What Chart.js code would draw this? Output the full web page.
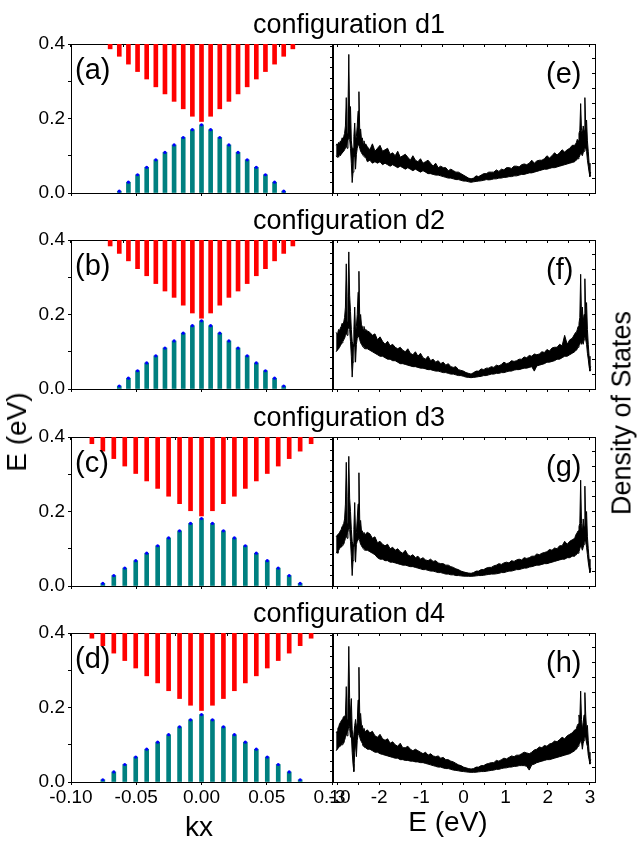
<!DOCTYPE html>
<html>
<head>
<meta charset="utf-8">
<script src="https://cdn.jsdelivr.net/npm/chart.js@4/dist/chart.umd.min.js"></script>
<style>
  body { margin: 0; background: #fff; font-family: "Liberation Sans", Arial, sans-serif; }
  #fig { position: relative; width: 638px; height: 841px; overflow: hidden; }
  #fig canvas { position: absolute; }
  .txt { position: absolute; white-space: nowrap; color: #000; line-height: 1; }
</style>
</head>
<body>
<div id="fig"></div>
<script>
// ---- data ----
const configNames = ["configuration d1", "configuration d2", "configuration d3", "configuration d4"];
const bandLetters = ["(a)", "(b)", "(c)", "(d)"];
const dosLetters = ["(e)", "(f)", "(g)", "(h)"];

// kx sampling (d1/d2 share one grid, d3/d4 another)
const kxAB = [-0.070, -0.063, -0.056, -0.049, -0.042, -0.035, -0.028, -0.021, -0.014, -0.007, 0,
  0.007, 0.014, 0.021, 0.028, 0.035, 0.042, 0.049, 0.056, 0.063, 0.070];
const kxCD = [-0.084, -0.0756, -0.0672, -0.0588, -0.0504, -0.042, -0.0336, -0.0252, -0.0168, -0.0084, 0,
  0.0084, 0.0168, 0.0252, 0.0336, 0.042, 0.0504, 0.0588, 0.0672, 0.0756, 0.084];

// conduction band (red, hangs from top) and valence band (teal) energies, eV
const condA = [0.387, 0.367, 0.346, 0.326, 0.306, 0.285, 0.266, 0.246, 0.226, 0.206, 0.192, 0.206, 0.226, 0.246, 0.266, 0.285, 0.306, 0.326, 0.346, 0.367, 0.387];
const valA = [null, 0.005, 0.029, 0.049, 0.069, 0.089, 0.109, 0.129, 0.149, 0.170, 0.183, 0.170, 0.149, 0.129, 0.109, 0.089, 0.069, 0.049, 0.029, 0.005, null];
const condB = [0.384, 0.364, 0.344, 0.323, 0.304, 0.283, 0.263, 0.246, 0.225, 0.204, 0.190, 0.204, 0.225, 0.246, 0.263, 0.283, 0.304, 0.323, 0.344, 0.364, 0.384];
const valB = [null, 0.008, 0.029, 0.049, 0.070, 0.089, 0.110, 0.129, 0.150, 0.170, 0.183, 0.170, 0.150, 0.129, 0.110, 0.089, 0.070, 0.049, 0.029, 0.008, null];
const condC = [0.382, 0.362, 0.342, 0.322, 0.302, 0.282, 0.262, 0.241, 0.221, 0.202, 0.188, 0.202, 0.221, 0.241, 0.262, 0.282, 0.302, 0.322, 0.342, 0.362, 0.382];
const valC = [null, 0.007, 0.028, 0.048, 0.068, 0.088, 0.108, 0.129, 0.148, 0.168, 0.181, 0.168, 0.148, 0.129, 0.108, 0.088, 0.068, 0.048, 0.028, 0.007, null];
const condD = [0.386, 0.366, 0.346, 0.326, 0.306, 0.285, 0.266, 0.245, 0.224, 0.206, 0.192, 0.206, 0.224, 0.245, 0.266, 0.285, 0.306, 0.326, 0.346, 0.366, 0.386];
const valD = [null, 0.006, 0.027, 0.047, 0.067, 0.088, 0.107, 0.127, 0.148, 0.167, 0.181, 0.167, 0.148, 0.127, 0.107, 0.088, 0.067, 0.047, 0.027, 0.006, null];

// DOS energy grid (eV); DOS given as upper / lower edge of the noisy trace
// (arb. units, 0 = panel bottom, 1 = panel top)
const dosEnergy = [
  -3.02, -3.00, -2.98, -2.96, -2.94, -2.92, -2.90, -2.88, -2.86, -2.84, -2.82, -2.80, -2.78, -2.76, -2.74, -2.72, -2.70, -2.68,
  -2.66, -2.64, -2.62, -2.60, -2.58, -2.56, -2.54, -2.52, -2.50, -2.48, -2.46, -2.44, -2.42, -2.40, -2.38, -2.36, -2.34, -2.32,
  -2.28, -2.22, -2.16, -2.10, -2.04, -1.98, -1.92, -1.86, -1.80, -1.74, -1.68, -1.62, -1.56, -1.50, -1.44, -1.38, -1.32, -1.26,
  -1.20, -1.14, -1.08, -1.02, -0.96, -0.90, -0.84, -0.78, -0.72, -0.66, -0.60, -0.54, -0.48, -0.42, -0.36, -0.30, -0.24, -0.18,
  -0.12, -0.06, 0.00, 0.06, 0.12, 0.18, 0.24, 0.30, 0.36, 0.42, 0.48, 0.54, 0.60, 0.66, 0.72, 0.78, 0.84, 0.90, 0.96, 1.02,
  1.08, 1.14, 1.20, 1.26, 1.32, 1.38, 1.44, 1.50, 1.56, 1.62, 1.68, 1.74, 1.80, 1.86, 1.92, 1.98, 2.04, 2.10, 2.16, 2.22,
  2.28, 2.34, 2.40, 2.46, 2.52, 2.58, 2.64,
  2.66, 2.68, 2.70, 2.72, 2.74, 2.76, 2.78, 2.80, 2.82, 2.84, 2.86, 2.88, 2.90, 2.92, 2.94, 2.96, 2.98, 3.00, 3.02];

const dosEHi = [
  0.32, 0.33, 0.31, 0.34, 0.33, 0.35, 0.34, 0.37, 0.36, 0.38, 0.40, 0.45, 0.64, 0.40, 0.55, 0.93, 0.50, 0.58,
  0.35, 0.30, 0.30, 0.38, 0.47, 0.35, 0.38, 0.45, 0.55, 0.68, 0.40, 0.43, 0.36, 0.37, 0.33, 0.35, 0.32, 0.33,
  0.31, 0.29, 0.33, 0.28, 0.30, 0.32, 0.28, 0.29, 0.30, 0.26,
  0.27, 0.25, 0.28, 0.24, 0.25, 0.26, 0.24, 0.22, 0.25, 0.22,
  0.21, 0.23, 0.20, 0.21, 0.22, 0.20, 0.18, 0.20, 0.17, 0.18,
  0.17, 0.17, 0.15, 0.16, 0.15, 0.14, 0.14, 0.13, 0.12, 0.11,
  0.10, 0.095, 0.10, 0.115, 0.11, 0.12, 0.13, 0.13, 0.14, 0.14,
  0.14, 0.155, 0.145, 0.16, 0.155, 0.17, 0.17, 0.165, 0.18, 0.18,
  0.175, 0.19, 0.195, 0.19, 0.20, 0.22, 0.20, 0.215, 0.22, 0.22,
  0.23, 0.25, 0.235, 0.25, 0.27, 0.255, 0.27, 0.29, 0.275, 0.29,
  0.30, 0.32, 0.32,
  0.33, 0.34, 0.36, 0.35, 0.40, 0.42, 0.60, 0.42, 0.40, 0.45, 0.42, 0.64, 0.45, 0.49, 0.35, 0.28, 0.20, 0.13, 0.14];
const dosELo = [
  0.25, 0.24, 0.25, 0.24, 0.26, 0.25, 0.26, 0.27, 0.27, 0.28, 0.29, 0.30, 0.32, 0.30, 0.35, 0.38, 0.36, 0.30,
  0.20, 0.07, 0.14, 0.24, 0.25, 0.16, 0.26, 0.30, 0.33, 0.32, 0.30, 0.28, 0.27, 0.26, 0.25, 0.25, 0.24, 0.24,
  0.21, 0.22, 0.20, 0.21, 0.20, 0.21, 0.19, 0.20, 0.19, 0.18,
  0.19, 0.18, 0.17, 0.18, 0.17, 0.16, 0.17, 0.16, 0.15, 0.16,
  0.15, 0.14, 0.15, 0.14, 0.13, 0.13, 0.125, 0.12, 0.12, 0.115,
  0.11, 0.105, 0.10, 0.10, 0.095, 0.09, 0.09, 0.085, 0.08, 0.08,
  0.075, 0.072, 0.075, 0.078, 0.08, 0.082, 0.085, 0.09, 0.088, 0.09,
  0.095, 0.095, 0.10, 0.10, 0.105, 0.105, 0.11, 0.11, 0.115, 0.115,
  0.12, 0.125, 0.125, 0.13, 0.135, 0.135, 0.14, 0.145, 0.15, 0.155,
  0.16, 0.16, 0.165, 0.17, 0.17, 0.175, 0.18, 0.185, 0.19, 0.195,
  0.20, 0.205, 0.21,
  0.22, 0.22, 0.23, 0.23, 0.24, 0.25, 0.27, 0.26, 0.25, 0.27, 0.28, 0.30, 0.30, 0.28, 0.22, 0.18, 0.14, 0.11, 0.12];

const dosFHi = [
  0.38, 0.37, 0.38, 0.40, 0.39, 0.41, 0.42, 0.44, 0.43, 0.45, 0.48, 0.55, 0.84, 0.45, 0.62, 0.92, 0.63, 0.52,
  0.40, 0.32, 0.30, 0.40, 0.55, 0.38, 0.42, 0.50, 0.65, 0.79, 0.45, 0.50, 0.43, 0.42, 0.40, 0.42, 0.39, 0.40,
  0.39, 0.38, 0.36, 0.37, 0.33, 0.35, 0.32, 0.30, 0.32, 0.29,
  0.30, 0.28, 0.27, 0.28, 0.26, 0.25, 0.27, 0.24, 0.23, 0.25,
  0.22, 0.24, 0.21, 0.20, 0.22, 0.19, 0.20, 0.18, 0.19, 0.17,
  0.18, 0.16, 0.17, 0.15, 0.145, 0.15, 0.13, 0.125, 0.12, 0.11,
  0.105, 0.10, 0.11, 0.12, 0.12, 0.135, 0.13, 0.14, 0.14, 0.15,
  0.145, 0.16, 0.155, 0.165, 0.18, 0.17, 0.175, 0.19, 0.185, 0.19,
  0.20, 0.20, 0.215, 0.21, 0.225, 0.22, 0.235, 0.23, 0.235, 0.25,
  0.245, 0.265, 0.255, 0.275, 0.28, 0.28, 0.30, 0.29, 0.36, 0.30,
  0.33, 0.34, 0.37,
  0.38, 0.38, 0.40, 0.42, 0.44, 0.48, 0.77, 0.48, 0.55, 0.45, 0.50, 0.74, 0.50, 0.58, 0.40, 0.30, 0.22, 0.14, 0.15];
const dosFLo = [
  0.25, 0.26, 0.26, 0.27, 0.28, 0.29, 0.30, 0.31, 0.32, 0.33, 0.34, 0.36, 0.38, 0.36, 0.40, 0.42, 0.40, 0.32,
  0.22, 0.08, 0.18, 0.28, 0.30, 0.18, 0.30, 0.34, 0.36, 0.35, 0.33, 0.31, 0.30, 0.29, 0.28, 0.28, 0.27, 0.27,
  0.27, 0.26, 0.25, 0.24, 0.23, 0.22, 0.22, 0.21, 0.20, 0.20,
  0.19, 0.19, 0.18, 0.17, 0.17, 0.165, 0.16, 0.155, 0.15, 0.15,
  0.145, 0.14, 0.14, 0.135, 0.13, 0.13, 0.125, 0.12, 0.12, 0.115,
  0.11, 0.11, 0.105, 0.10, 0.10, 0.095, 0.09, 0.09, 0.085, 0.08,
  0.078, 0.076, 0.078, 0.08, 0.083, 0.085, 0.09, 0.09, 0.095, 0.10,
  0.10, 0.105, 0.105, 0.11, 0.11, 0.115, 0.12, 0.12, 0.127, 0.13,
  0.13, 0.135, 0.14, 0.14, 0.145, 0.15, 0.12, 0.155, 0.16, 0.165,
  0.17, 0.18, 0.18, 0.185, 0.19, 0.20, 0.20, 0.21, 0.22, 0.22,
  0.23, 0.24, 0.25,
  0.26, 0.26, 0.27, 0.28, 0.29, 0.30, 0.32, 0.30, 0.32, 0.30, 0.33, 0.35, 0.33, 0.30, 0.24, 0.20, 0.15, 0.12, 0.13];

const dosGHi = [
  0.33, 0.34, 0.34, 0.35, 0.36, 0.37, 0.38, 0.40, 0.41, 0.42, 0.45, 0.55, 0.83, 0.42, 0.60, 0.87, 0.59, 0.50,
  0.38, 0.30, 0.28, 0.38, 0.56, 0.35, 0.36, 0.45, 0.55, 0.76, 0.42, 0.44, 0.37, 0.37, 0.35, 0.36, 0.34, 0.35,
  0.36, 0.35, 0.32, 0.33, 0.29, 0.30, 0.28, 0.27, 0.28, 0.25,
  0.26, 0.24, 0.25, 0.23, 0.22, 0.24, 0.21, 0.20, 0.21, 0.19,
  0.20, 0.18, 0.19, 0.175, 0.17, 0.18, 0.165, 0.17, 0.155, 0.15,
  0.15, 0.14, 0.14, 0.13, 0.125, 0.115, 0.11, 0.10, 0.095, 0.09,
  0.087, 0.085, 0.09, 0.10, 0.10, 0.11, 0.11, 0.12, 0.125, 0.125,
  0.135, 0.14, 0.15, 0.145, 0.155, 0.16, 0.155, 0.17, 0.165, 0.175,
  0.18, 0.175, 0.19, 0.185, 0.19, 0.20, 0.20, 0.215, 0.21, 0.22,
  0.225, 0.23, 0.245, 0.24, 0.255, 0.25, 0.27, 0.27, 0.30, 0.28,
  0.30, 0.31, 0.32,
  0.34, 0.35, 0.36, 0.37, 0.40, 0.42, 0.71, 0.42, 0.36, 0.45, 0.40, 0.67, 0.42, 0.50, 0.33, 0.25, 0.18, 0.10, 0.12];
const dosGLo = [
  0.22, 0.23, 0.22, 0.24, 0.25, 0.26, 0.26, 0.27, 0.28, 0.28, 0.30, 0.32, 0.34, 0.32, 0.36, 0.40, 0.38, 0.30,
  0.20, 0.07, 0.17, 0.26, 0.28, 0.16, 0.28, 0.30, 0.32, 0.32, 0.30, 0.28, 0.27, 0.26, 0.25, 0.25, 0.24, 0.24,
  0.24, 0.23, 0.22, 0.21, 0.19, 0.18, 0.18, 0.17, 0.17, 0.16,
  0.16, 0.155, 0.15, 0.145, 0.14, 0.14, 0.135, 0.13, 0.13, 0.125,
  0.12, 0.115, 0.11, 0.11, 0.105, 0.10, 0.10, 0.095, 0.09, 0.09,
  0.085, 0.08, 0.08, 0.075, 0.075, 0.07, 0.07, 0.068, 0.066, 0.066,
  0.065, 0.065, 0.066, 0.068, 0.07, 0.07, 0.072, 0.075, 0.078, 0.08,
  0.08, 0.082, 0.085, 0.09, 0.09, 0.095, 0.10, 0.10, 0.105, 0.11,
  0.11, 0.115, 0.12, 0.12, 0.127, 0.13, 0.135, 0.14, 0.14, 0.145,
  0.15, 0.15, 0.155, 0.16, 0.165, 0.17, 0.175, 0.18, 0.18, 0.19,
  0.19, 0.20, 0.20,
  0.21, 0.21, 0.22, 0.22, 0.23, 0.25, 0.27, 0.26, 0.24, 0.26, 0.28, 0.30, 0.30, 0.26, 0.21, 0.16, 0.12, 0.09, 0.10];

const dosHHi = [
  0.33, 0.34, 0.36, 0.37, 0.39, 0.40, 0.41, 0.42, 0.43, 0.44, 0.44, 0.45, 0.64, 0.42, 0.55, 0.91, 0.56, 0.45,
  0.56, 0.35, 0.30, 0.32, 0.38, 0.42, 0.36, 0.40, 0.55, 0.77, 0.44, 0.46, 0.38, 0.38, 0.35, 0.36, 0.34, 0.34,
  0.35, 0.33, 0.34, 0.31, 0.30, 0.32, 0.29, 0.28, 0.29, 0.26,
  0.27, 0.25, 0.24, 0.26, 0.23, 0.23, 0.24, 0.22, 0.21, 0.22,
  0.21, 0.20, 0.19, 0.20, 0.18, 0.19, 0.175, 0.17, 0.175, 0.16,
  0.165, 0.15, 0.15, 0.14, 0.135, 0.125, 0.115, 0.11, 0.10, 0.095,
  0.09, 0.087, 0.09, 0.10, 0.10, 0.11, 0.11, 0.12, 0.125, 0.13,
  0.13, 0.145, 0.14, 0.15, 0.16, 0.155, 0.165, 0.175, 0.17, 0.18,
  0.18, 0.19, 0.20, 0.195, 0.19, 0.20, 0.215, 0.22, 0.235, 0.23,
  0.245, 0.24, 0.255, 0.26, 0.275, 0.27, 0.285, 0.30, 0.29, 0.31,
  0.32, 0.33, 0.35,
  0.35, 0.36, 0.38, 0.39, 0.45, 0.42, 0.61, 0.42, 0.35, 0.40, 0.45, 0.60, 0.45, 0.35, 0.38, 0.28, 0.20, 0.14, 0.15];
const dosHLo = [
  0.21, 0.22, 0.22, 0.23, 0.24, 0.24, 0.25, 0.25, 0.26, 0.26, 0.28, 0.30, 0.32, 0.31, 0.34, 0.38, 0.36, 0.30,
  0.32, 0.20, 0.12, 0.07, 0.20, 0.26, 0.17, 0.28, 0.32, 0.33, 0.30, 0.28, 0.27, 0.26, 0.24, 0.25, 0.23, 0.23,
  0.22, 0.22, 0.21, 0.20, 0.20, 0.19, 0.185, 0.18, 0.175, 0.17,
  0.165, 0.16, 0.16, 0.15, 0.15, 0.145, 0.145, 0.14, 0.14, 0.135,
  0.135, 0.13, 0.13, 0.125, 0.12, 0.115, 0.11, 0.105, 0.10, 0.10,
  0.094, 0.09, 0.09, 0.085, 0.08, 0.078, 0.075, 0.072, 0.07, 0.068,
  0.066, 0.065, 0.065, 0.066, 0.068, 0.07, 0.07, 0.072, 0.075, 0.078,
  0.08, 0.085, 0.085, 0.09, 0.094, 0.095, 0.10, 0.10, 0.105, 0.105,
  0.11, 0.11, 0.11, 0.105, 0.08, 0.115, 0.12, 0.13, 0.135, 0.14,
  0.145, 0.15, 0.15, 0.155, 0.16, 0.165, 0.17, 0.175, 0.18, 0.185,
  0.19, 0.20, 0.21,
  0.22, 0.22, 0.23, 0.24, 0.25, 0.26, 0.28, 0.27, 0.22, 0.26, 0.28, 0.30, 0.30, 0.26, 0.24, 0.18, 0.15, 0.12, 0.13];

const rows = [
  { kx: kxAB, cond: condA, val: valA, hi: dosEHi, lo: dosELo },
  { kx: kxAB, cond: condB, val: valB, hi: dosFHi, lo: dosFLo },
  { kx: kxCD, cond: condC, val: valC, hi: dosGHi, lo: dosGLo },
  { kx: kxCD, cond: condD, val: valD, hi: dosHHi, lo: dosHLo },
];

// ---- layout ----
const FONT = '"Liberation Sans", Arial, sans-serif';
Chart.defaults.font.family = FONT;
Chart.defaults.font.size = 19;
Chart.defaults.color = "#000";

const fig = document.getElementById("fig");
const rowTop = [44, 240, 437, 633];
const panelH = 149;
const padTop = 15;
const xAxisH = 30;

function addCanvas(left, top, w, h) {
  const c = document.createElement("canvas");
  c.width = w;
  c.height = h;
  c.style.left = left + "px";
  c.style.top = top + "px";
  c.style.width = w + "px";
  c.style.height = h + "px";
  fig.appendChild(c);
  return c;
}

function addText(str, left, top, size, extra) {
  const d = document.createElement("div");
  d.className = "txt";
  d.textContent = str;
  d.style.left = left + "px";
  d.style.top = top + "px";
  d.style.fontSize = size + "px";
  if (extra) Object.assign(d.style, extra);
  fig.appendChild(d);
  return d;
}

function frameAxis(pos, min, max, step, size) {
  const horiz = pos === "top" || pos === "bottom";
  return {
    type: "linear", position: pos, min: min, max: max,
    border: { display: true, color: "#000", width: 1 },
    grid: { drawOnChartArea: false, drawTicks: step > 0, tickLength: -3, color: "#000" },
    ticks: { display: false, stepSize: step > 0 ? step : (max - min), includeBounds: false },
    afterFit: s => { if (horiz) s.height = size; else s.width = size; },
  };
}

function bandChart(r) {
  const row = rows[r];
  const last = r === rows.length - 1;
  const W = 360, H = padTop + panelH + xAxisH;
  const canvas = addCanvas(0, rowTop[r] - padTop, W, H);
  const redBars = row.cond.map((v, i) => ({ x: row.kx[i], y: [v, 0.4] }));
  const tealBars = [], dots = [];
  row.val.forEach((v, i) => {
    if (v === null) return;
    tealBars.push({ x: row.kx[i], y: [0, v] });
    dots.push({ x: row.kx[i], y: v });
  });
  new Chart(canvas, {
    type: "bar",
    data: {
      datasets: [
        { data: redBars, backgroundColor: "#ff0000", barThickness: 4, grouped: false, order: 3 },
        { data: tealBars, backgroundColor: "#008080", barThickness: 4, grouped: false, order: 2 },
        { type: "line", data: dots, showLine: false, pointRadius: 1.6, pointBorderWidth: 0,
          pointBackgroundColor: "#0000ff", order: 1 },
      ],
    },
    options: {
      responsive: false, animation: false, devicePixelRatio: 1,
      layout: { padding: { top: padTop, right: W - 332, left: 0, bottom: 0 } },
      plugins: { legend: { display: false }, tooltip: { enabled: false } },
      scales: {
        x: {
          type: "linear", position: "bottom", min: -0.1, max: 0.1, offset: false,
          border: { display: true, color: "#000", width: 1 },
          grid: { drawOnChartArea: false, offset: false, tickLength: 3, color: "#000" },
          ticks: {
            stepSize: 0.05, padding: 1, autoSkip: false, maxRotation: 0,
            callback: v => last ? (Math.abs(v) < 1e-9 ? "0.00" : v.toFixed(2)) : "",
          },
          afterFit: s => { s.height = xAxisH; },
        },
        y: {
          type: "linear", position: "left", min: 0, max: 0.4,
          border: { display: true, color: "#000", width: 1 },
          grid: { drawOnChartArea: false, tickLength: 3, color: "#000" },
          ticks: {
            stepSize: 0.1, padding: 3, autoSkip: false,
            callback: v => (Math.round(v * 10) % 2 === 0 ? v.toFixed(1) : ""),
          },
          afterFit: s => { s.width = 71; },
        },
        x2: frameAxis("top", -0.1, 0.1, 0.05, 0),
        y2: frameAxis("right", 0, 0.4, 0, 0),
      },
    },
  });
}

function dosChart(r) {
  const row = rows[r];
  const last = r === rows.length - 1;
  const L = 310, W = 310, H = padTop + panelH + xAxisH;
  const canvas = addCanvas(L, rowTop[r] - padTop, W, H);
  const upper = row.hi.map((v, i) => ({ x: dosEnergy[i], y: v }));
  const lower = row.lo.map((v, i) => ({ x: dosEnergy[i], y: v }));
  new Chart(canvas, {
    type: "line",
    data: {
      datasets: [
        { data: upper, borderColor: "#000", borderWidth: 1, pointRadius: 0, tension: 0,
          fill: "+1", backgroundColor: "#000" },
        { data: lower, borderColor: "#000", borderWidth: 1, pointRadius: 0, tension: 0, fill: false },
      ],
    },
    options: {
      responsive: false, animation: false, devicePixelRatio: 1,
      layout: { padding: { top: padTop, right: L + W - 595, left: 0, bottom: 0 } },
      plugins: { legend: { display: false }, tooltip: { enabled: false } },
      scales: {
        x: {
          type: "linear", position: "bottom", min: -3.095, max: 3.12,
          border: { display: true, color: "#000", width: 1 },
          grid: { drawOnChartArea: false, tickLength: 3, color: "#000" },
          ticks: {
            stepSize: 0.5, includeBounds: false, padding: 1, autoSkip: false, maxRotation: 0,
            callback: v => (last && Math.abs(v - Math.round(v)) < 1e-6 ? String(Math.round(v)) : ""),
          },
          afterFit: s => { s.height = xAxisH; },
        },
        y: {
          type: "linear", position: "left", min: 0, max: 1,
          border: { display: true, color: "#000", width: 1 },
          grid: { drawOnChartArea: false, tickLength: 3, color: "#000" },
          ticks: { display: false, stepSize: 0.07, includeBounds: false },
          afterFit: s => { s.width = 333 - L; },
        },
        x2: frameAxis("top", -3.095, 3.12, 0.5, 0),
        y2: frameAxis("right", 0, 1, 0.1, 0),
      },
    },
  });
}

for (let r = 0; r < rows.length; r++) {
  bandChart(r);
  dosChart(r);
}

// ---- text ----
for (let r = 0; r < rows.length; r++) {
  const T = rowTop[r];
  addText(configNames[r], 349, T - 33, 27, { transform: "translateX(-50%)" });
  addText(bandLetters[r], 75, T + 11, 29);
  addText(dosLetters[r], 546, T + 15, 29);
}
addText("kx", 199, 813, 28, { transform: "translateX(-50%)" });
addText("E (eV)", 448, 808, 28, { transform: "translateX(-50%)" });
addText("E (eV)", 17, 432, 28, { transform: "translate(-50%, -50%) rotate(-90deg)" });
addText("Density of States", 622, 413, 27, { transform: "translate(-50%, -50%) rotate(-90deg)" });
</script>
</body>
</html>
